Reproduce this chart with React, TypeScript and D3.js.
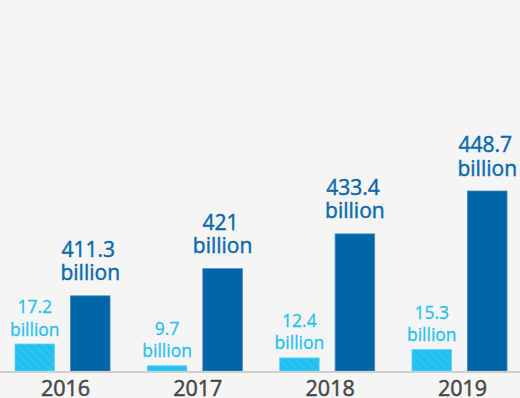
import React, { useRef, useEffect } from 'react';
import * as d3 from 'd3';

const years = ['2016', '2017', '2018', '2019'];
const increaseValues = [17.2, 9.7, 12.4, 15.3];
const totalValues = [411.3, 421, 433.4, 448.7];
const valueUnit = 'billion';

const App = () => {
  const svgRef = useRef<SVGSVGElement | null>(null);

  useEffect(() => {
    if (!svgRef.current) return;
    document.body.style.margin = '0';
    document.body.style.background = '#f5f5f5';

    const width = 520;
    const height = 398;
    const baseline = 371;
    const font = '"Open Sans", "Noto Sans", sans-serif';

    const svg = d3.select(svgRef.current);
    svg.selectAll('*').remove();
    svg.attr('width', width).attr('height', height);

    svg.append('rect')
      .attr('width', width)
      .attr('height', height)
      .attr('fill', '#f5f5f5');

    // hatch pattern for the light bars
    const pattern = svg.append('defs')
      .append('pattern')
      .attr('id', 'hatch')
      .attr('patternUnits', 'userSpaceOnUse')
      .attr('width', 6)
      .attr('height', 6)
      .attr('patternTransform', 'rotate(-45)');
    pattern.append('rect').attr('width', 6).attr('height', 6).attr('fill', '#27c3f3');
    pattern.append('line')
      .attr('x1', 0).attr('y1', 0).attr('x2', 0).attr('y2', 6)
      .attr('stroke', '#1fb6e8')
      .attr('stroke-width', 2);

    const x0 = d3.scaleBand<string>()
      .domain(years)
      .range([15, 507])
      .paddingInner(0.282)
      .paddingOuter(0);

    const x1 = d3.scaleBand<string>()
      .domain(['increase', 'total'])
      .range([0, x0.bandwidth()])
      .paddingInner(0.288);

    // the two series are drawn on their own (non-zero) scales
    const yIncrease = d3.scaleLinear().domain([7.9, 17.2]).range([baseline, baseline - 27]);
    const yTotal = d3.scaleLinear().domain([384.5, 448.7]).range([baseline, baseline - 180]);

    const groups = svg.selectAll('.year')
      .data(years)
      .enter()
      .append('g')
      .attr('class', 'year')
      .attr('transform', d => `translate(${x0(d)},0)`);

    // light bars
    groups.append('rect')
      .attr('x', x1('increase')!)
      .attr('y', (d, i) => yIncrease(increaseValues[i]))
      .attr('width', x1.bandwidth())
      .attr('height', (d, i) => baseline - yIncrease(increaseValues[i]))
      .attr('fill', 'url(#hatch)')
      .attr('stroke', '#5fd3f6')
      .attr('stroke-width', 0.8);

    // dark bars
    groups.append('rect')
      .attr('x', x1('total')!)
      .attr('y', (d, i) => yTotal(totalValues[i]))
      .attr('width', x1.bandwidth())
      .attr('height', (d, i) => baseline - yTotal(totalValues[i]))
      .attr('fill', '#0066aa')
      .attr('stroke', '#3f86bd')
      .attr('stroke-width', 0.8);

    // light labels
    const lightLabel = groups.append('text')
      .attr('text-anchor', 'middle')
      .attr('font-family', font)
      .attr('font-size', 17.5)
      .attr('fill', '#2bc1f0')
      .attr('stroke', '#2bc1f0')
      .attr('stroke-width', 0.3);
    lightLabel.append('tspan')
      .attr('x', x1('increase')! + x1.bandwidth() / 2)
      .attr('y', (d, i) => yIncrease(increaseValues[i]) - 31)
      .text((d, i) => String(increaseValues[i]));
    lightLabel.append('tspan')
      .attr('x', x1('increase')! + x1.bandwidth() / 2)
      .attr('y', (d, i) => yIncrease(increaseValues[i]) - 8.5)
      .text(valueUnit);

    // dark labels
    const darkLabel = groups.append('text')
      .attr('text-anchor', 'middle')
      .attr('font-family', font)
      .attr('font-size', 21)
      .attr('fill', '#0b6aad')
      .attr('stroke', '#0b6aad')
      .attr('stroke-width', 0.45);
    darkLabel.append('tspan')
      .attr('x', x1('total')! + x1.bandwidth() / 2 - 2)
      .attr('y', (d, i) => yTotal(totalValues[i]) - 39)
      .text((d, i) => String(totalValues[i]));
    darkLabel.append('tspan')
      .attr('x', x1('total')! + x1.bandwidth() / 2)
      .attr('y', (d, i) => yTotal(totalValues[i]) - 15.5)
      .text(valueUnit);

    // baseline
    svg.append('line')
      .attr('x1', 0)
      .attr('x2', width)
      .attr('y1', baseline + 1)
      .attr('y2', baseline + 1)
      .attr('stroke', '#cfcfcf')
      .attr('stroke-width', 2);

    // year labels
    groups.append('text')
      .attr('x', x0.bandwidth() / 2 + 3)
      .attr('y', 396)
      .attr('text-anchor', 'middle')
      .attr('font-family', font)
      .attr('font-size', 21.5)
      .attr('fill', '#474747')
      .attr('stroke', '#474747')
      .attr('stroke-width', 0.5)
      .text(d => d);
  }, []);

  return <svg ref={svgRef} style={{ display: 'block' }}></svg>;
};

export default App;
